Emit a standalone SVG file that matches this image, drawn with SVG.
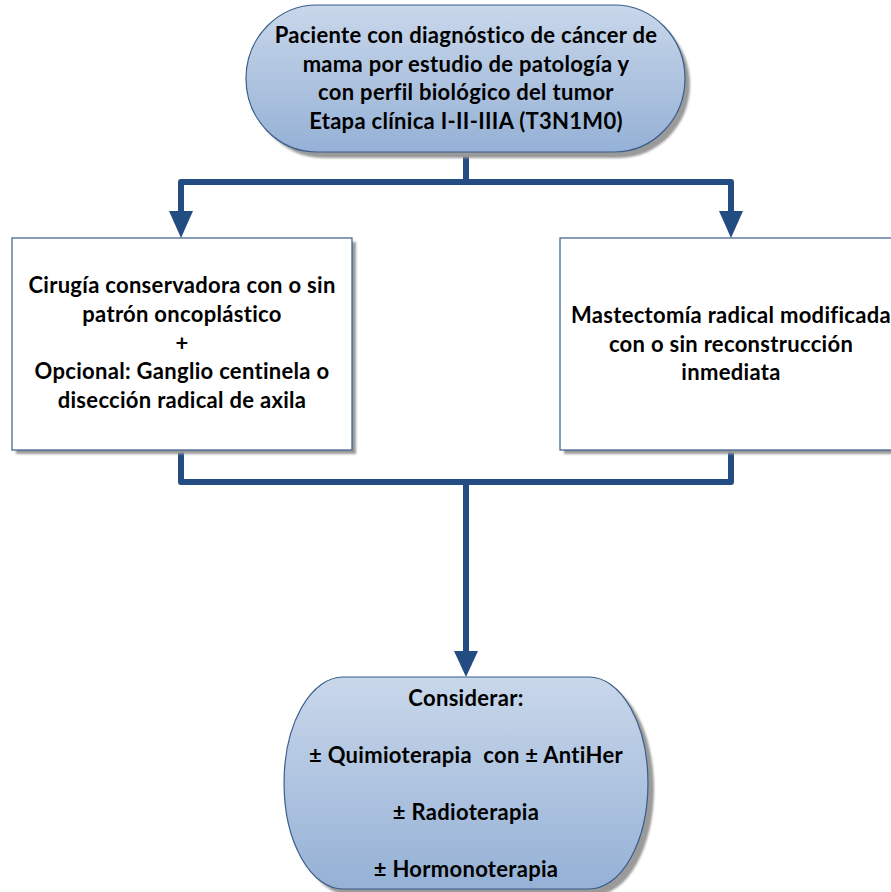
<svg xmlns="http://www.w3.org/2000/svg" width="891" height="892" viewBox="0 0 891 892">
<defs>
  <linearGradient id="blueGrad" x1="0" y1="0" x2="0" y2="1">
    <stop offset="0" stop-color="#c9d7ea"/>
    <stop offset="1" stop-color="#95b1d6"/>
  </linearGradient>
  <filter id="shadowBlur" x="-10%" y="-10%" width="120%" height="120%">
    <feGaussianBlur stdDeviation="1.2"/>
  </filter>
</defs>
<style>
  .shape { stroke: #385d8a; stroke-width: 1.2; }
  .term { fill: url(#blueGrad); }
  .box { fill: #ffffff; }
  .shadow { fill: #9a9a9a; filter: url(#shadowBlur); }
  .conn { fill: none; stroke: #234d82; stroke-width: 6; stroke-linejoin: round; stroke-linecap: round; }
  .head { fill: #234d82; }
  text { font-family: "Lato", "Open Sans", "Liberation Sans", sans-serif; font-weight: bold; font-size: 22px; letter-spacing: 0.3px; fill: #000000; text-anchor: middle; }
</style>

<g id="connectors">
  <path class="conn" d="M466,153 L466,182 L181,182 L181,212"/>
  <path class="conn" d="M466,182 L731,182 L731,212"/>
  <path class="head" d="M169,211 L193,211 L181,238 Z"/>
  <path class="head" d="M719,211 L743,211 L731,238 Z"/>
  <path class="conn" d="M181,450 L181,482 L731,482 L731,450"/>
  <path class="conn" d="M466,482 L466,652"/>
  <path class="head" d="M454,651 L478,651 L466,677 Z"/>
</g>

<g id="node-start">
  <path class="shadow" d="M320,8 L616,8 A71,73.5 0 0 1 616,155 L320,155 A71,73.5 0 0 1 320,8 Z" transform="translate(3,3)"/>
  <path class="shape term" d="M317,5 L614,5 A71,73.5 0 0 1 614,152 L317,152 A71,73.5 0 0 1 317,5 Z"/>
  <text x="466" y="43">Paciente con diagnóstico de cáncer de</text>
  <text x="466" y="71.5">mama por estudio de patología y</text>
  <text x="466" y="100">con perfil biológico del tumor</text>
  <text x="466" y="128.5">Etapa clínica I-II-IIIA (T3N1M0)</text>
</g>

<g id="node-cirugia">
  <rect class="shadow" x="16" y="242" width="340" height="212"/>
  <rect class="shape box" x="12" y="238" width="340" height="212"/>
  <text x="182" y="293">Cirugía conservadora con o sin</text>
  <text x="182" y="322">patrón oncoplástico</text>
  <text x="182" y="350.5">+</text>
  <text x="182" y="379">Opcional: Ganglio centinela o</text>
  <text x="182" y="408">disección radical de axila</text>
</g>

<g id="node-mastectomia">
  <rect class="shadow" x="564" y="242" width="340" height="212"/>
  <rect class="shape box" x="560" y="238" width="340" height="212"/>
  <text x="731" y="323">Mastectomía radical modificada</text>
  <text x="731" y="351.5">con o sin reconstrucción</text>
  <text x="731" y="380">inmediata</text>
</g>

<g id="node-considerar">
  <path class="shadow" d="M346,680 L592,680 A59,106 0 0 1 592,892 L346,892 A59,106 0 0 1 346,680 Z" transform="translate(3,3)"/>
  <path class="shape term" d="M343,677 L589,677 A59,106 0 0 1 589,889 L343,889 A59,106 0 0 1 343,677 Z"/>
  <text x="466" y="706">Considerar:</text>
  <text x="466" y="763" xml:space="preserve">± Quimioterapia  con ± AntiHer</text>
  <text x="466" y="820">± Radioterapia</text>
  <text x="466" y="877">± Hormonoterapia</text>
</g>
</svg>
